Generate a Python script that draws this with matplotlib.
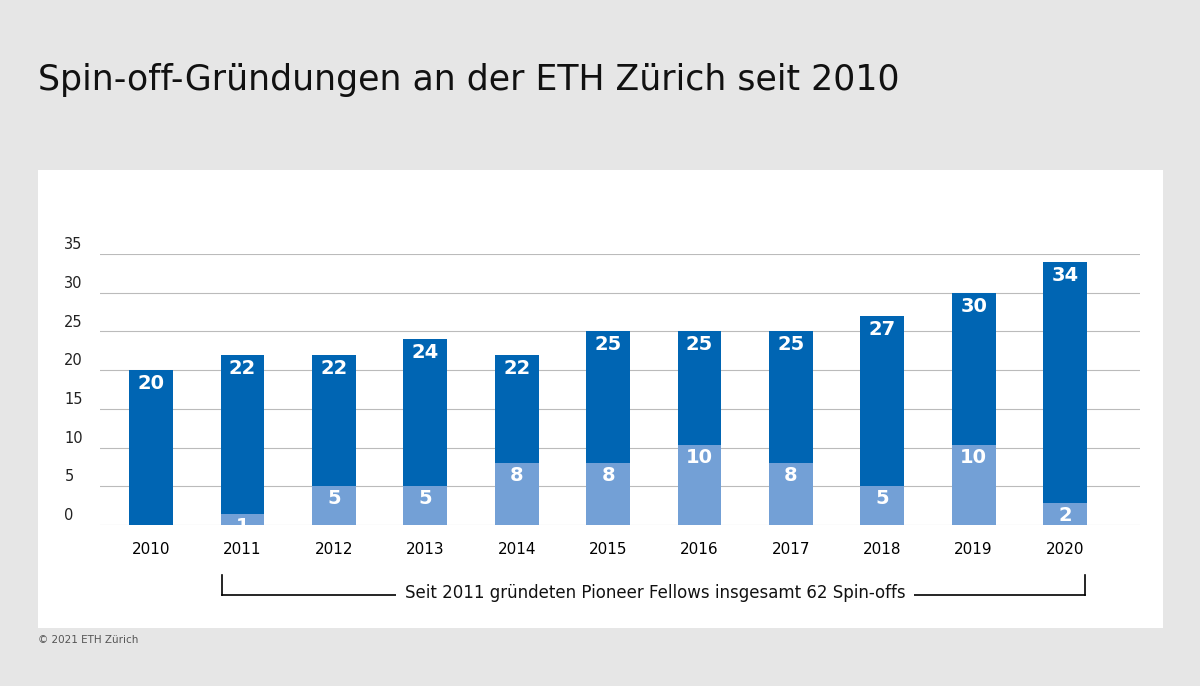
import matplotlib
matplotlib.use("Agg")
import matplotlib.pyplot as plt
from matplotlib.patches import Rectangle
from matplotlib.lines import Line2D

years = ["2010","2011","2012","2013","2014","2015","2016","2017","2018","2019","2020"]
total = [20,22,22,24,22,25,25,25,27,30,34]
pioneer = [0,1.4,5,5,8,8,10.3,8,5,10.3,2.8]
pioneer_labels = [None,"1","5","5","8","8","10","8","5","10","2"]

W, H = 1200, 686
fig = plt.figure(figsize=(W/100, H/100), dpi=100)
fig.patch.set_facecolor("#e6e6e6")
fig.patches.append(Rectangle((38/W, 1-628/H), (1163-38)/W, (628-170)/H,
                             transform=fig.transFigure, facecolor="white", edgecolor="none", zorder=-10))
fig.text(38/W, 1-80/H, "Spin-off-Gründungen an der ETH Zürich seit 2010", fontsize=25,
         va="center", ha="left", color="#111111")
fig.text(38/W, 1-640/H, "© 2021 ETH Zürich", fontsize=7.5, va="center", color="#555555")

ax = fig.add_axes([100/W, 1-525/H, (1140-100)/W, (525-254)/H])
ax.set_zorder(5)
ax.set_facecolor("none")
x = list(range(len(years)))
dark = "#0065b3"; light = "#73a0d6"
ax.bar(x, total, width=0.48, color=dark, zorder=2)
ax.bar(x, pioneer, width=0.48, color=light, zorder=3)
for i in x:
    ax.text(i, total[i]-0.5, str(total[i]), color="white", fontweight="bold", fontsize=14,
            ha="center", va="top", zorder=4)
    if pioneer_labels[i]:
        ax.text(i, pioneer[i]-0.4, pioneer_labels[i], color="white", fontweight="bold", fontsize=14,
                ha="center", va="top", zorder=4)
ax.set_xlim(-0.56, 10.82)
ax.set_ylim(0, 35)
for v in range(0, 40, 5):
    ax.axhline(v, color="#bbbbbb", lw=0.8, zorder=1)
    ax.text(-0.95, v+1.2, str(v), fontsize=10.5, ha="left", va="center", color="#222222")
ax.set_yticks([])
ax.set_xticks(x)
ax.set_xticklabels(years, fontsize=11)
ax.tick_params(axis="x", length=0, pad=12)
for s in ax.spines.values():
    s.set_visible(False)

yb = 1-595/H; yt = 1-575/H
for xx in (222, 1085):
    fig.add_artist(Line2D([xx/W, xx/W], [yb, yt], color="black", lw=1.2))
fig.add_artist(Line2D([222/W, 1085/W], [yb, yb], color="black", lw=1.2))
fig.text(655/W, 1-593/H, "Seit 2011 gründeten Pioneer Fellows insgesamt 62 Spin-offs", fontsize=12,
         ha="center", va="center", color="#111111",
         bbox=dict(facecolor="white", edgecolor="none", pad=6))
fig.savefig("out.png", dpi=100, facecolor=fig.get_facecolor())
